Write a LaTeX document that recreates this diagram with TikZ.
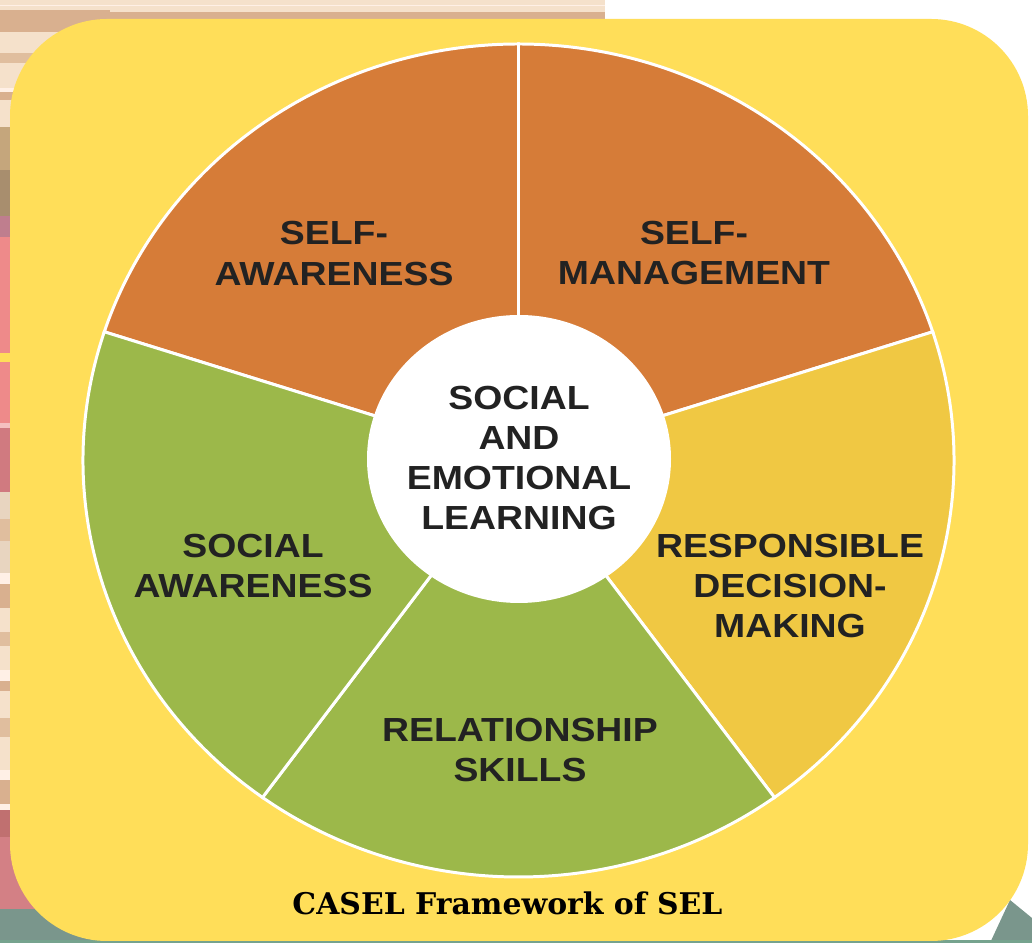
\documentclass[tikz,border=0pt]{standalone}
\usepackage{fontspec}
\newfontfamily\segfont[FakeStretch=1.12]{Liberation Sans}
\newfontfamily\capfont{DejaVu Serif}
\definecolor{panel}{HTML}{FFDE59}
\definecolor{segorange}{HTML}{D67C38}
\definecolor{seggreen}{HTML}{9CB84A}
\definecolor{segyellow}{HTML}{F0C843}
\definecolor{ink}{HTML}{222222}
\definecolor{beige}{HTML}{F5E1CB}
\definecolor{tan}{HTML}{D9B08F}
\definecolor{tanl}{HTML}{E0BE9E}
\definecolor{cream}{HTML}{FFF0E6}
\definecolor{khaki}{HTML}{C5A67C}
\definecolor{taupe}{HTML}{A88E6E}
\definecolor{mauve}{HTML}{BF7E8E}
\definecolor{pinka}{HTML}{EE8A8A}
\definecolor{pinkl}{HTML}{F5C0C0}
\definecolor{rose}{HTML}{D07A80}
\definecolor{sand}{HTML}{E8D5C0}
\definecolor{darkrose}{HTML}{C07070}
\definecolor{dusty}{HTML}{D38085}
\definecolor{teal}{HTML}{7A968C}
\definecolor{tealg}{HTML}{76A38E}
\tikzset{
    sector/.style={draw=white, line width=1.7pt},
    seglabel/.style={align=center, text=ink, inner sep=0pt,
        font=\segfont\bfseries\fontsize{19}{22.8}\selectfont},
}

\begin{document}
\begin{tikzpicture}[x=0.02cm, y=0.02cm]
    \useasboundingbox (0,0) rectangle (1032,943);
    \fill[white] (0,0) rectangle (1032,943);
    \fill[beige] (0,943) rectangle (605,924);
    \fill[cream] (0,938) rectangle (605,937);
    \fill[tan] (0,931) rectangle (605,924);
    \foreach \ya/\yb/\col in {10/32/tan, 32/53/beige, 53/63/tanl, 63/88/beige, 88/92/cream,
        92/100/tan, 100/127/beige, 127/170/khaki, 170/216/taupe, 216/237/mauve,
        237/353/pinka, 353/362/panel, 362/423/pinka, 423/428/pinkl, 428/492/rose,
        492/519/sand, 519/541/tanl, 541/573/sand, 573/584/cream, 584/608/tan,
        608/632/beige, 632/646/tanl, 646/670/beige, 670/681/cream, 681/691/tan,
        691/718/beige, 718/737/tanl, 737/770/beige, 770/780/cream, 780/804/tan,
        804/810/cream, 810/837/darkrose, 837/909/dusty, 909/943/teal}
        \fill[\col] (0,{943-\ya}) rectangle (110,{943-\yb});
    \fill[teal] (1010,43) -- (1032,25) -- (1032,0) -- (990,0) -- cycle;
    \fill[tealg] (0,0) rectangle (1032,3);
    \fill[panel, rounded corners=1.94cm] (10,2) rectangle (1028,924);

    \coordinate (c) at (518.5,482.5);
    \filldraw[sector, fill=segorange] (c) -- ++(90:435.5 and 416.5)
        arc[start angle=90, end angle=162, x radius=435.5, y radius=416.5] -- cycle;
    \filldraw[sector, fill=segorange] (c) -- ++(18:435.5 and 416.5)
        arc[start angle=18, end angle=90, x radius=435.5, y radius=416.5] -- cycle;
    \filldraw[sector, fill=segyellow] (c) -- ++(-54:435.5 and 416.5)
        arc[start angle=-54, end angle=18, x radius=435.5, y radius=416.5] -- cycle;
    \filldraw[sector, fill=seggreen] (c) -- ++(-126:435.5 and 416.5)
        arc[start angle=-126, end angle=-54, x radius=435.5, y radius=416.5] -- cycle;
    \filldraw[sector, fill=seggreen] (c) -- ++(162:435.5 and 416.5)
        arc[start angle=162, end angle=234, x radius=435.5, y radius=416.5] -- cycle;
    \fill[white] (519,484) ellipse [x radius=152, y radius=144];

    \node[seglabel] (selfaw) at (334,689.5) {SELF-\\AWARENESS};
    \node[seglabel] (selfmg) at (694,690) {SELF-\\MANAGEMENT};
    \node[seglabel] (socaw) at (253,377) {SOCIAL\\AWARENESS};
    \node[seglabel] (respdm) at (790,357) {RESPONSIBLE\\DECISION-\\MAKING};
    \node[seglabel] (relsk) at (520,193) {RELATIONSHIP\\SKILLS};
    \node[seglabel] (sel) at (519,485) {SOCIAL\\AND\\EMOTIONAL\\LEARNING};
    \node[anchor=base, inner sep=0pt, text=black,
        font=\capfont\bfseries\fontsize{17}{20}\selectfont] (caption) at (507.5,28) {CASEL Framework of SEL};
\end{tikzpicture}
\end{document}
